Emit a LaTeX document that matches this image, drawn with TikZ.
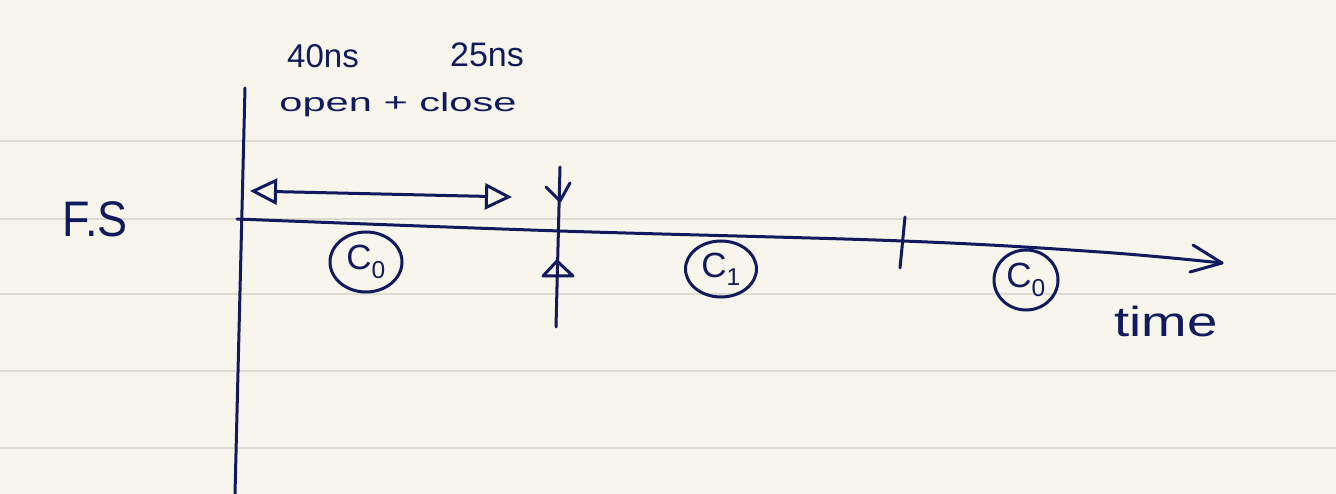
\documentclass[tikz,border=0pt]{standalone}
\usepackage{fontspec}
\setmainfont{Liberation Sans}
\usepackage{graphicx}
\usetikzlibrary{arrows.meta,shapes.geometric}
\definecolor{ink}{RGB}{16,26,92}
\definecolor{paper}{RGB}{248,245,237}
\definecolor{ruling}{RGB}{221,218,210}
\begin{document}
\begin{tikzpicture}[x=1pt,y=-1pt,
  pen/.style={draw=ink, line width=3pt, line cap=round, line join=round},
  hand/.style={text=ink, inner sep=0pt, anchor=base},
  bubble/.style={ellipse, draw=ink, line width=3pt, inner sep=0pt, text=ink,
    font=\fontsize{35}{35}\selectfont},
  openhead/.style={Triangle[open, length=27pt, width=24pt]}]
\fill[paper] (0,0) rectangle (1336,494);
\useasboundingbox (0,0) rectangle (1336,494);
\foreach \y in {141,219,294,371,448}
  \draw[ruling, line width=2pt] (0,\y) -- (1336,\y);

% labels
\node[hand, font=\fontsize{33}{33}\selectfont] (t40) at (323,68) {40ns};
\node[hand, font=\fontsize{34}{34}\selectfont] (t25) at (487,67) {25ns};
\node[hand] (oc) at (398,112) {\scalebox{1.6}[1]{\fontsize{26}{26}\selectfont open + close}};
\node[hand] (fs) at (95,237) {\scalebox{0.9}[1]{\fontsize{50}{50}\selectfont F.S}};
\node[hand] (time) at (1166,337) {\scalebox{1.3}[1]{\fontsize{42}{42}\selectfont time}};

% vertical axis
\coordinate (vtop) at (245,88);
\coordinate (vbot) at (235,494);
\draw[pen] (vtop) -- (vbot);

% time axis
\coordinate (t0) at (237,219);
\coordinate (tend) at (1222,263);
\draw[pen] plot[smooth, tension=0.6] coordinates {(237,219) (560,231) (903,241) (1100,252) (1222,263)};
\coordinate (ha) at (1193,245);
\coordinate (hb) at (1190,272);
\draw[pen] (ha) -- (tend) -- (hb);

% double arrow
\coordinate (da) at (250,191);
\coordinate (db) at (512,197);
\draw[pen, {Triangle[open, length=27pt, width=26pt]}-{Triangle[open, length=27pt, width=26pt]}] (da) -- (db);

% divider at the end of C0
\coordinate (k1top) at (560,167);
\coordinate (k1bot) at (556,327);
\draw[pen] (k1top) -- (k1bot);
\draw[pen] (546,187) -- (560,201) -- (570,183);
\draw[pen] (557,261) -- (543,276) -- (573,276) -- cycle;

% divider at the end of C1
\coordinate (k2top) at (905,217);
\coordinate (k2bot) at (900,268);
\draw[pen] (k2top) -- (k2bot);

% circles
\node[bubble, minimum width=72pt, minimum height=60pt] (c0) at (366,262) {C\textsubscript{0}};
\node[bubble, minimum width=71pt, minimum height=56pt] (c1) at (721,269) {C\textsubscript{1}};
\node[bubble, minimum width=64pt, minimum height=60pt] (c0b) at (1026,280) {C\textsubscript{0}};
\end{tikzpicture}
\end{document}
